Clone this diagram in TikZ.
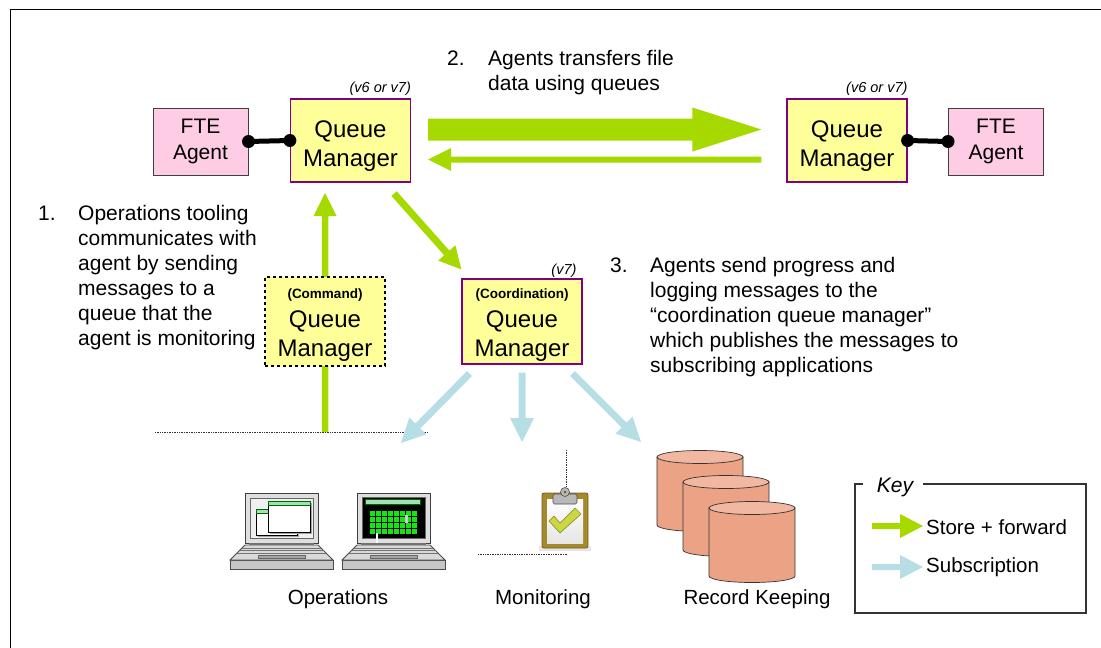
\documentclass[tikz,border=0pt]{standalone}
\usepackage{fontspec}
\setmainfont{Liberation Sans}
\usetikzlibrary{calc}

\definecolor{sfgreen}{RGB}{165,217,0}
\definecolor{subblue}{RGB}{183,222,228}
\definecolor{qmfill}{RGB}{255,255,153}
\definecolor{qmedge}{RGB}{128,0,128}
\definecolor{ftefill}{RGB}{255,204,229}
\definecolor{drumbody}{RGB}{236,162,132}
\definecolor{drumtop}{RGB}{242,183,160}
\definecolor{scrgreen}{RGB}{20,230,20}
\definecolor{barsgreen}{RGB}{160,226,176}
\definecolor{clipgold}{RGB}{165,138,45}
\definecolor{clipdark}{RGB}{120,95,25}
\definecolor{tickfill}{RGB}{205,214,70}
\definecolor{tickedge}{RGB}{140,150,30}

\newcommand\qmtagfont{\fontsize{13.5}{15}\selectfont\bfseries}

% filled block arrow: style, tail, tip, shaft half width, head half width, head length
\newcommand\fatarrow[6]{%
  \coordinate (faHead) at ($(#3)!#6!(#2)$);
  \fill[#1] ($(#2)!#4!90:(#3)$) -- ($(faHead)!#4!90:(#3)$) -- ($(faHead)!#5!90:(#3)$)
    -- (#3) -- ($(faHead)!#5!-90:(#3)$) -- ($(faHead)!#4!-90:(#3)$) -- ($(#2)!#4!-90:(#3)$) -- cycle;}

\tikzset{
  qm/.style={draw=qmedge, line width=1.2pt, fill=qmfill, minimum width=120pt,
    minimum height=83pt, inner sep=0pt},
  qmtext/.style={align=center, inner sep=0pt, font=\fontsize{24}{29}\selectfont},
  fte/.style={draw=black!75, line width=1pt, fill=ftefill, minimum width=95pt,
    minimum height=67pt, inner sep=0pt, align=center, font=\fontsize{21}{26}\selectfont},
  body/.style={font=\fontsize{21}{25}\selectfont, inner sep=0pt, align=left},
  caption/.style={font=\fontsize{20.5}{24}\selectfont, inner sep=0pt},
  vtag/.style={font=\fontsize{14.5}{16}\selectfont\itshape, inner sep=0pt},
  dotline/.style={densely dotted, line width=0.7pt, black!80},
  laptop/.pic={
    \filldraw[fill=gray!45, draw=black!70, line width=0.8pt] (-15,67) rectangle (88,76);
    \filldraw[fill=gray!30, draw=black!70, line width=0.8pt] (0,52) -- (73,52) -- (88,67) -- (-15,67) -- cycle;
    \draw[black!55, line width=0.6pt] (-3,55) -- (76,55) (-5.5,57.5) -- (78.5,57.5) (-8,60) -- (81,60);
    \filldraw[fill=gray!70, draw=black!60, line width=0.5pt] (13,62.5) rectangle (60,65.5);
    \filldraw[fill=gray!25, draw=black!75, line width=0.8pt] (0,0) rectangle (73,50);
    \fill[black!55] (4,50) rectangle (69,52);
  },
  drum/.pic={
    \filldraw[fill=drumbody, draw=black!80, line width=0.7pt] (-43,0) -- (-43,68)
      arc[start angle=180, end angle=0, x radius=43, y radius=6.5] -- (43,0) -- cycle;
    \filldraw[fill=drumtop, draw=black!80, line width=0.7pt] (0,0) ellipse [x radius=43, y radius=6.5];
  }
}

\begin{document}
\begin{tikzpicture}[x=1pt, y=-1pt]
\useasboundingbox (0,0) rectangle (1101,648);

% page frame
\draw[line width=1.5pt] (1101,9.5) -- (10.5,9.5) -- (10.5,648);

% agents and queue managers
\node[fte] (fteL) at (200.5,141.5) {FTE\\Agent};
\node[qm, label={[qmtext, yshift=-6pt]center:{Queue\\Manager}}] (qmL) at (350.5,140.5) {};
\node[qm, label={[qmtext, yshift=-6pt]center:{Queue\\Manager}}] (qmR) at (847,140.5) {};
\node[fte] (fteR) at (996,141.5) {FTE\\Agent};
\node[vtag, anchor=base east] (vL) at ($(qmL.north east)+(0,-6)$) {(v6 or v7)};
\node[vtag, anchor=base east] (vR) at ($(qmR.north east)+(0,-6)$) {(v6 or v7)};

\draw[line width=5pt] (fteL.east) -- (qmL.west);
\fill (fteL.east) circle[radius=6.5pt] (qmL.west) circle[radius=6.5pt];
\draw[line width=5pt] (qmR.east) -- (fteR.west);
\fill (qmR.east) circle[radius=6.5pt] (fteR.west) circle[radius=6.5pt];

% transfer arrows between the agents' queue managers
\coordinate (fwdA) at ($(qmL.east)+(17,-11)$);
\coordinate (fwdB) at ($(qmR.west)+(-25,-11)$);
\fatarrow{sfgreen}{fwdA}{fwdB}{11pt}{22pt}{69pt}
\coordinate (backA) at ($(qmR.west)+(-25,19)$);
\coordinate (backB) at ($(qmL.east)+(17,19)$);
\fatarrow{sfgreen}{backA}{backB}{3pt}{11.5pt}{23pt}

% command queue manager and its path to the agent
\coordinate (cmdFoot) at (325,432);
\coordinate (cmdTip) at (325,193);
\fatarrow{sfgreen}{cmdFoot}{cmdTip}{3.25pt}{11.5pt}{23pt}
\draw[dotline] (155,432) -- (428,432);
\node[qm, draw=black, dashed, minimum height=89pt,
  label={[qmtext, yshift=-3.5pt]center:{{\qmtagfont(Command)}\\Queue\\Manager}}] (cmd) at (325,321.5) {};

% coordination queue manager
\node[qm, minimum height=85pt,
  label={[qmtext, yshift=-3.5pt]center:{{\qmtagfont(Coordination)}\\Queue\\Manager}}] (coord) at (522,321.5) {};
\node[vtag, anchor=base east] (vC) at ($(coord.north east)+(-6,-4)$) {(v7)};
\coordinate (logA) at ($(qmL.south east)+(-17,11)$);
\coordinate (logB) at ($(coord.north west)+(0,-9)$);
\fatarrow{sfgreen}{logA}{logB}{3.5pt}{11.5pt}{22pt}

% subscriptions
\coordinate (subA1) at ($(coord.south west)+(8,9)$);
\coordinate (subB1) at (401,443);
\fatarrow{subblue}{subA1}{subB1}{3.5pt}{12pt}{24pt}
\coordinate (subA2) at ($(coord.south)+(0,8)$);
\coordinate (subB2) at (522,442);
\fatarrow{subblue}{subA2}{subB2}{3.5pt}{12pt}{24pt}
\coordinate (subA3) at ($(coord.south east)+(-10,9)$);
\coordinate (subB3) at (641,442);
\fatarrow{subblue}{subA3}{subB3}{3.5pt}{12pt}{24pt}

% numbered notes
\node[body, anchor=base west] (num1) at (38,220) {1.};
\node[body, anchor=north west] (txt1) at (78,205) {Operations tooling\\communicates with\\agent by sending\\messages to a\\queue that the\\agent is monitoring};
\node[body, anchor=base west] (num2) at (447,65) {2.};
\node[body, anchor=north west] (txt2) at (488,50) {Agents transfers file\\data using queues};
\node[body, anchor=base west] (num3) at (610,272) {3.};
\node[body, anchor=north west] (txt3) at (650,257) {Agents send progress and\\logging messages to the\\“coordination queue manager”\\which publishes the messages to\\subscribing applications};

% operations consoles
\pic at (245,493) {laptop};
\begin{scope}[shift={(245,493)}]
  \filldraw[fill=gray!12, draw=black!60, line width=0.6pt] (5,5) rectangle (68,45);
  \fill[black!35] (13,18) rectangle (54,44);
  \filldraw[fill=white, draw=black, line width=0.8pt] (11,16) rectangle (52,42);
  \filldraw[fill=barsgreen, draw=green!40!black, line width=0.5pt] (11,16) rectangle (52,20);
  \fill[black!35] (25,10) rectangle (67,41);
  \filldraw[fill=white, draw=black, line width=0.8pt] (23,8) rectangle (65,39);
  \filldraw[fill=barsgreen, draw=green!40!black, line width=0.5pt] (23,8) rectangle (65,12);
\end{scope}
\pic at (357,493) {laptop};
\begin{scope}[shift={(357,493)}]
  \filldraw[fill=black, draw=black!60, line width=0.6pt] (5,4) rectangle (68,45);
  \filldraw[fill=barsgreen, draw=green!40!black, line width=0.5pt] (8,6) rectangle (63,11);
  \foreach \i in {0,...,7}
    \foreach \j in {0,...,3}
      \fill[scrgreen] ({13+6*\i},{18+6*\j}) rectangle ++(4.5,4.5);
  \fill[gray!40] (48,22) rectangle (51,30);
  \fill[white] (18.5,40) rectangle (20.5,50);
\end{scope}
\node[caption, anchor=base] (opsLbl) at (338,604) {Operations};

% monitoring
\draw[dotline] (566,450) -- (566,487);
\draw[dotline] (478,554) -- (567,554);
\begin{scope}[shift={(542,488)}]
  \fill[black!10] (-3,58) rectangle (49,63);
  \filldraw[fill=clipgold, draw=clipdark, line width=0.8pt, rounded corners=2pt] (0,5) rectangle (46,60);
  \shade[top color=white, bottom color=gray!20] (5,11) rectangle (41,55);
  \filldraw[fill=gray!55, draw=gray!60!black, line width=0.6pt, rounded corners=1.5pt] (11,6) rectangle (35,16);
  \filldraw[fill=gray!55, draw=gray!60!black, line width=0.6pt] (23,4) circle[radius=4.5pt];
  \fill[clipdark] (23,4) circle[radius=1.5pt];
  \filldraw[fill=tickfill, draw=tickedge, line width=0.7pt, line join=round]
    (7,33) -- (12,28) -- (18,35) -- (33,20) -- (39,26) -- (18,45) -- cycle;
\end{scope}
\node[caption, anchor=base] (monLbl) at (543,604) {Monitoring};

% record keeping stores
\pic at (700,457) {drum};
\pic at (726,482) {drum};
\pic at (752,508) {drum};
\node[caption, anchor=base] (recLbl) at (757,604) {Record Keeping};

% key
\node[font=\fontsize{21}{25}\selectfont\itshape, inner sep=0pt] (keyLbl) at (895,487) {Key};
\draw[line width=1.3pt, black!80] (863,484) -- (855,484) -- (855,613) -- (1086,613) -- (1086,484) -- (923,484);
\node[caption, anchor=west] (sfLbl) at (926,527) {Store + forward};
\node[caption, anchor=west] (subLbl) at (926,567) {Subscription};
\coordinate (sfTail) at (872,526);
\coordinate (sfTip) at ($(sfLbl.west)+(-3,-1)$);
\fatarrow{sfgreen}{sfTail}{sfTip}{3pt}{12pt}{23pt}
\coordinate (subTail) at (872,567);
\coordinate (subTip) at ($(subLbl.west)+(-3,0)$);
\fatarrow{subblue}{subTail}{subTip}{3pt}{12pt}{23pt}
\end{tikzpicture}
\end{document}
